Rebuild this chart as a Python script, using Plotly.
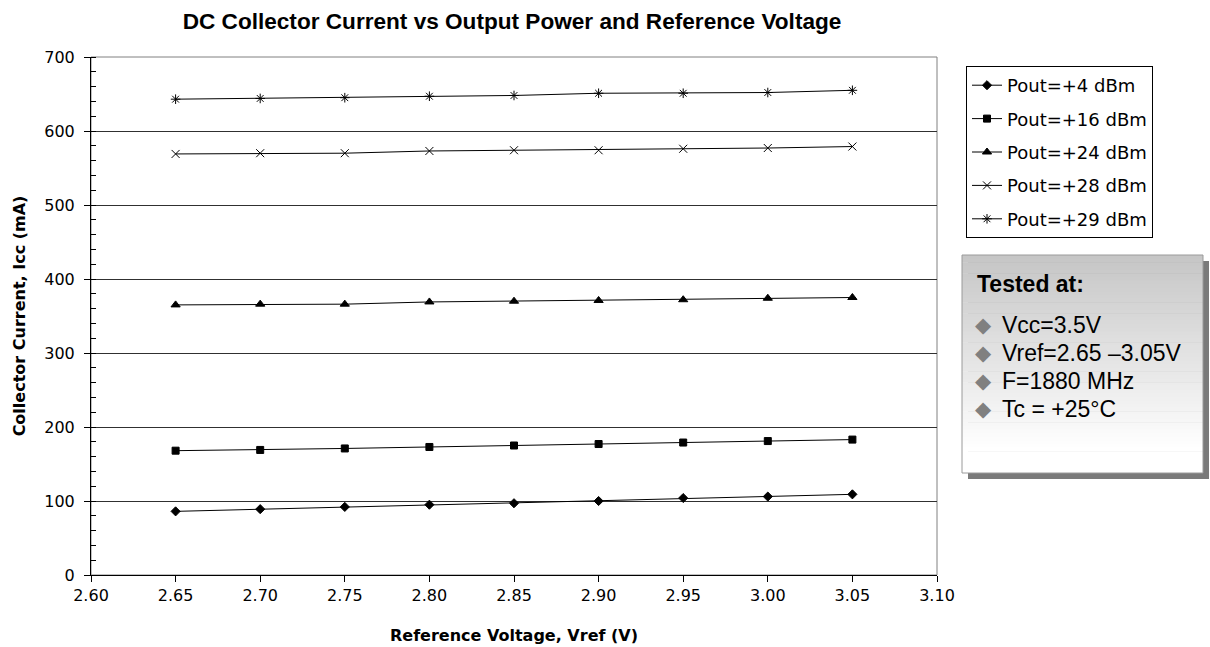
import plotly.graph_objects as go

# reference voltage (V) and collector current (mA) per output power
vref = [2.65, 2.70, 2.75, 2.80, 2.85, 2.90, 2.95, 3.00, 3.05]
icc_4dbm = [86, 89, 92, 95, 97, 100, 104, 106, 109]
icc_16dbm = [168, 169, 171, 173, 175, 177, 179, 181, 183]
icc_24dbm = [365, 366, 366, 369, 370, 371, 372, 374, 375]
icc_28dbm = [569, 570, 570, 573, 574, 574, 576, 577, 579]
icc_29dbm = [643, 644, 645, 647, 648, 651, 651, 652, 655]

series_names = ["Pout=+4 dBm", "Pout=+16 dBm", "Pout=+24 dBm", "Pout=+28 dBm", "Pout=+29 dBm"]
series_values = [icc_4dbm, icc_16dbm, icc_24dbm, icc_28dbm, icc_29dbm]
series_symbols = ["diamond", "square", "triangle-up", "x-thin-open", "asterisk-open"]
series_sizes = [7, 7, 8, 8, 8]

tested_title = "Tested at:"
tested_items = ["Vcc=3.5V", "Vref=2.65 \u20133.05V", "F=1880 MHz", "Tc = +25\u00b0C"]

W, H = 1210, 647
PL, PR, PT, PB = 91, 937, 57, 575


def px(x):
    return (x - PL) / (PR - PL)


def py(y):
    return (PB - y) / (PB - PT)


fig = go.Figure()
for i, (name, vals, sym, sz) in enumerate(zip(series_names, series_values, series_symbols, series_sizes)):
    fig.add_trace(go.Scatter(
        x=vref, y=vals, name=name, mode="lines+markers",
        legendgroup=f"g{i}",
        line=dict(color="#000000", width=1),
        marker=dict(symbol=sym, size=sz, color="#000000",
                    line=dict(color="#000000", width=1)),
    ))

shapes = []
# plot area border (grey top / right)
shapes.append(dict(type="rect", xref="paper", yref="paper", x0=0, x1=1, y0=0, y1=1,
                   line=dict(color="#808080", width=1), layer="below"))

# "Tested at" box: shadow, gradient fill, border
bx0, bx1, by0, by1 = 962, 1203, 255, 473
sh = 6
shapes.append(dict(type="rect", xref="paper", yref="paper",
                   x0=px(bx0 + sh), x1=px(bx1 + sh), y0=py(by1 + sh), y1=py(by0 + sh),
                   fillcolor="#7a7a7a", line=dict(width=0)))
n = 60
for k in range(n):
    t = k / (n - 1)
    g = int(round(198 + (255 - 198) * min(1.0, t / 0.9)))
    ya = by0 + (by1 - by0) * k / n
    yb = by0 + (by1 - by0) * (k + 1) / n + 0.6
    shapes.append(dict(type="rect", xref="paper", yref="paper",
                       x0=px(bx0), x1=px(bx1), y0=py(min(yb, by1)), y1=py(ya),
                       fillcolor=f"rgb({g},{g},{g})", line=dict(width=0)))
shapes.append(dict(type="rect", xref="paper", yref="paper",
                   x0=px(bx0), x1=px(bx1), y0=py(by1), y1=py(by0),
                   line=dict(color="#9a9a9a", width=1)))

annotations = [dict(
    text=f"<b>{tested_title}</b>", xref="paper", yref="paper",
    x=px(975), y=py(284), xanchor="left", yanchor="middle", showarrow=False,
    font=dict(family="Liberation Sans", size=23, color="#000000"),
)]
item_y = [325, 353, 381, 409]
for label, yy in zip(tested_items, item_y):
    annotations.append(dict(
        text="\u25c6", xref="paper", yref="paper", x=px(983), y=py(yy),
        xanchor="center", yanchor="middle", showarrow=False,
        font=dict(family="DejaVu Sans", size=21, color="#808080"),
    ))
    annotations.append(dict(
        text=label, xref="paper", yref="paper", x=px(1000), y=py(yy),
        xanchor="left", yanchor="middle", showarrow=False,
        font=dict(family="Liberation Sans", size=23, color="#000000"),
    ))

fig.update_layout(
    width=W, height=H,
    title=dict(text="<b>DC Collector Current vs Output Power and Reference Voltage</b>",
               x=512 / W, xanchor="center",
               y=1 - 21 / H, yanchor="middle",
               font=dict(family="Liberation Sans", size=22.6, color="#000000")),
    paper_bgcolor="#ffffff",
    plot_bgcolor="#ffffff",
    margin=dict(l=PL, r=W - PR, t=PT, b=H - PB, pad=0),
    font=dict(family="DejaVu Sans", color="#000000"),
    xaxis=dict(
        range=[2.6, 3.1], dtick=0.05, tick0=2.6, tickformat=".2f",
        automargin=False,
        showline=True, linecolor="#000000", linewidth=1,
        ticks="outside", ticklen=6, tickcolor="#000000",
        showgrid=False, zeroline=False,
        tickfont=dict(family="DejaVu Sans", size=16, color="#000000"),
        title=dict(text="<b>Reference Voltage, Vref (V)</b>", standoff=25,
                   font=dict(family="DejaVu Sans", size=16, color="#000000")),
    ),
    yaxis=dict(
        range=[0, 700], dtick=100,
        automargin=False,
        showline=True, linecolor="#000000", linewidth=1,
        ticks="outside", ticklen=6, tickcolor="#000000",
        ticklabelstandoff=6,
        showgrid=True, gridcolor="#303030", gridwidth=1, zeroline=False,
        minor=dict(dtick=20, ticks="inside", ticklen=5, tickcolor="#000000", showgrid=False),
        tickfont=dict(family="DejaVu Sans", size=16, color="#000000"),
        title=dict(text="<b>Collector Current, Icc (mA)</b>", standoff=14,
                   font=dict(family="DejaVu Sans", size=16, color="#000000")),
    ),
    legend=dict(
        x=px(966), y=py(66), xanchor="left", yanchor="top",
        bordercolor="#000000", borderwidth=1, bgcolor="#ffffff",
        font=dict(family="DejaVu Sans", size=18, color="#000000"),
        traceorder="grouped", tracegroupgap=7, itemwidth=30,
    ),
    shapes=shapes,
    annotations=annotations,
)

fig.write_html("out.html", config={"displayModeBar": False},
               post_script="document.body.style.margin='0';")
